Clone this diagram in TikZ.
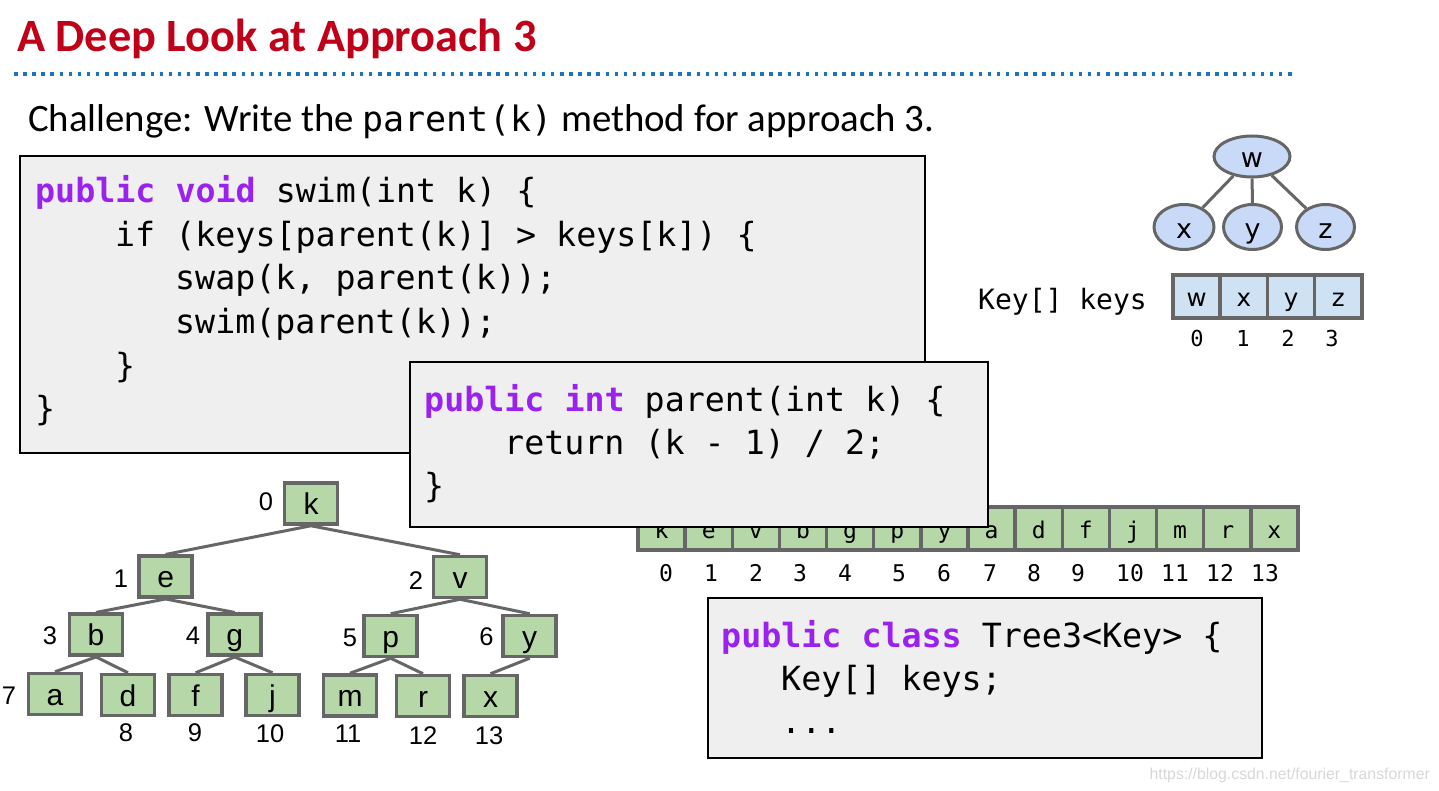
\documentclass[tikz,border=0pt]{standalone}
\usepackage{fontspec}
\setmainfont{Carlito}
\newfontfamily\codefont{DejaVu Sans Mono}
\newfontfamily\arialfont{Liberation Sans}
\newfontfamily\dvsfont{DejaVu Sans}
\usetikzlibrary{shapes.geometric}
\newcommand{\setfs}[1]{\fontsize{#1}{#1}\selectfont}
\definecolor{titlered}{HTML}{C00018}
\definecolor{dotblue}{HTML}{1E73BE}
\definecolor{kwpurple}{HTML}{9B22EE}
\definecolor{codegray}{HTML}{EFEFEF}
\definecolor{treegreen}{HTML}{B6D7A8}
\definecolor{ellblue}{HTML}{C9DAF8}
\definecolor{cellblue}{HTML}{CFE2F3}
\definecolor{bordergray}{HTML}{666666}
\definecolor{wmgray}{HTML}{D8D8D8}
\newcommand{\kw}[1]{{\bfseries\color{kwpurple}#1}}
\begin{document}
\begin{tikzpicture}[x=1pt,y=-1pt,
  codebox/.style={draw=black,line width=2.5pt,fill=codegray},
  codeline/.style={anchor=base west,inner sep=0pt,font=\codefont\setfs{33.3pt}},
  tbox/.style={rectangle,draw=bordergray,line width=3.5pt,fill=treegreen,minimum width=53pt,minimum height=41pt,inner sep=0pt,text height=23pt,text depth=1pt,font=\arialfont\setfs{30pt}},
  tlabel/.style={anchor=base,inner sep=0pt,font=\arialfont\setfs{25.5pt}},
  tedge/.style={draw=bordergray,line width=3pt},
  ell/.style={ellipse,draw=bordergray,line width=3pt,fill=ellblue,inner sep=0pt,text height=23pt,text depth=0pt,font=\dvsfont\setfs{27pt}},
  gcell/.style={rectangle,draw=bordergray,line width=3.5pt,fill=treegreen,minimum width=47.14pt,minimum height=43pt,inner sep=0pt,text height=19pt,text depth=0pt,font=\codefont\setfs{23pt}},
  bcell/.style={rectangle,draw=bordergray,line width=3.5pt,fill=cellblue,minimum width=47.5pt,minimum height=43pt,inner sep=0pt,text height=19pt,text depth=0pt,font=\dvsfont\setfs{24.5pt}},
  idx/.style={anchor=base,inner sep=0pt,font=\codefont\setfs{23pt}},
  sidx/.style={anchor=base,inner sep=0pt,font=\codefont\setfs{22pt}}
]
\useasboundingbox (0,0) rectangle (1439,791);
\fill[white] (0,0) rectangle (1439,791);

% title and rule
\node[anchor=base west,inner sep=0pt,font=\setfs{46.3pt}\bfseries,text=titlered] (title) at (17,52) {A Deep Look at Approach 3};
\draw[dotblue,line width=3.5pt,dash pattern=on 3.5pt off 5.6pt] (14,74) -- (1295,74);
\node[anchor=base west,inner sep=0pt,font=\setfs{38.8pt}] (challenge) at (28,132) {Challenge: Write the {\codefont\setfs{35pt}parent(k)} method for approach 3.};

% code box 1
\draw[codebox] (20,156) rectangle (925,453);
\node[codeline] (c1a) at (35,203) {\kw{public} \kw{void} swim(int k) \{};
\node[codeline] (c1b) at (115,247) {if (keys[parent(k)] > keys[k]) \{};
\node[codeline] (c1c) at (175,290) {swap(k, parent(k));};
\node[codeline] (c1d) at (175,333.5) {swim(parent(k));};
\node[codeline] (c1e) at (115,377) {\}};
\node[codeline] (c1f) at (35,420) {\}};

% bottom-left tree
\node[tbox] (tk) at (311,503.5) {k};
\node[tbox] (te) at (165.6,576.7) {e};
\node[tbox] (tv) at (460,577) {v};
\node[tbox] (tb) at (96,634.7) {b};
\node[tbox] (tg) at (234.6,634.7) {g};
\node[tbox] (tp) at (390.7,636) {p};
\node[tbox] (ty) at (529.7,636) {y};
\node[tbox] (ta) at (55,694) {a};
\node[tbox] (td) at (128,695) {d};
\node[tbox] (tf) at (195.6,695) {f};
\node[tbox] (tj) at (272.5,695) {j};
\node[tbox] (tm) at (350,695.5) {m};
\node[tbox] (tr) at (423,696) {r};
\node[tbox] (tx) at (490.5,696) {x};
\foreach \pa/\ch in {tk/te,tk/tv,te/tb,te/tg,tv/tp,tv/ty,tb/ta,tb/td,tg/tf,tg/tj,tp/tm,tp/tr,ty/tx}
  \draw[tedge] (\pa.south) -- (\ch.north);
\node[tlabel] (l0) at (266,510.7) {0};
\node[tlabel] (l1) at (121,587) {1};
\node[tlabel] (l2) at (416,589) {2};
\node[tlabel] (l3) at (50,644) {3};
\node[tlabel] (l4) at (193,644) {4};
\node[tlabel] (l5) at (350,646) {5};
\node[tlabel] (l6) at (486.5,645) {6};
\node[tlabel] (l7) at (9,704) {7};
\node[tlabel] (l8) at (126,741) {8};
\node[tlabel] (l9) at (195,741) {9};
\node[tlabel] (l10) at (270,742) {10};
\node[tlabel] (l11) at (348,742) {11};
\node[tlabel] (l12) at (423,744) {12};
\node[tlabel] (l13) at (489,744) {13};

% top-right tree
\node[ell,minimum width=76pt,minimum height=41pt] (ew) at (1252,156.5) {w};
\node[ell,minimum width=60pt,minimum height=45pt] (ex) at (1184,227) {x};
\node[ell,minimum width=58pt,minimum height=45pt] (ey) at (1252.5,227) {y};
\node[ell,minimum width=58pt,minimum height=45pt] (ez) at (1325.5,227) {z};
\draw[tedge] (ew) -- (ex);
\draw[tedge] (ew) -- (ey);
\draw[tedge] (ew) -- (ez);

% small array
\node[anchor=base west,inner sep=0pt,font=\codefont\setfs{28pt}] (keyslabel) at (978,309) {Key[] keys};
\foreach \c [count=\i from 0] in {w,x,y,z}
  \node[bcell] (s\i) at ({1173+47.25*(\i+0.5)},296.5) {\c};
\foreach \n/\xx in {0/1197,1/1243,2/1288,3/1332}
  \node[sidx] (si\n) at (\xx,346.5) {\n};

% green array
\foreach \c [count=\i from 0] in {k,e,v,b,g,p,y,a,d,f,j,m,r,x}
  \node[gcell] (g\i) at ({638+47.14*(\i+0.5)},528.5) {\c};
\foreach \n/\xx in {0/666,1/711,2/756,3/800,4/845,5/899,6/944,7/990,8/1034,9/1078,10/1130,11/1175,12/1220,13/1265}
  \node[idx] (gi\n) at (\xx,581) {\n};

% code box 2
\draw[codebox] (410,362) rectangle (988,527);
\node[codeline] (c2a) at (424,411) {\kw{public} \kw{int} parent(int k) \{};
\node[codeline] (c2b) at (504,454) {return (k - 1) / 2;};
\node[codeline] (c2c) at (424,497.5) {\}};

% code box 3
\draw[codebox] (708,598) rectangle (1262,758);
\node[codeline] (c3a) at (721,647) {\kw{public} \kw{class} Tree3<Key> \{};
\node[codeline] (c3b) at (781,690.5) {Key[] keys;};
\node[codeline] (c3c) at (781,733) {...};

% watermark
\node[anchor=base east,inner sep=0pt,font=\arialfont\setfs{15.8pt},text=wmgray] (wm) at (1430,779) {https://blog.csdn.net/fourier\_transformer};
\end{tikzpicture}
\end{document}
